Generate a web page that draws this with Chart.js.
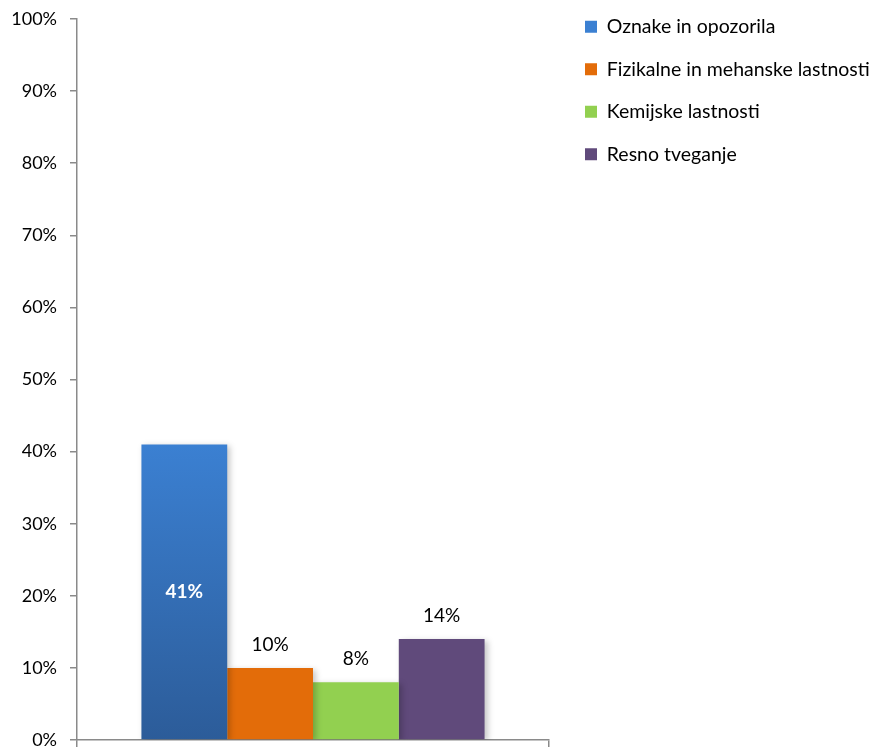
<!DOCTYPE html>
<html>
<head>
<meta charset="utf-8">
<title>Deleži</title>
<script src="https://cdn.jsdelivr.net/npm/chart.js@4"></script>
<style>
    html, body { margin: 0; padding: 0; background: #fff; }
    #wrap { width: 874px; height: 749px; }
</style>
</head>
<body>
<div id="wrap"><canvas id="graf"></canvas></div>
<script>
// =========================
// PODATKI
// =========================
const kategorije = [''];
const serije = ['Oznake in opozorila', 'Fizikalne in mehanske lastnosti', 'Kemijske lastnosti', 'Resno tveganje'];
const vrednosti = [41, 10, 8, 14];
const yOznake = [0, 10, 20, 30, 40, 50, 60, 70, 80, 90, 100];

const barve = ['#3a7dcd', '#e36c09', '#92d050', '#604a7b'];
const crta = '#8a8a8a';
const pisava = 'Lato, "Open Sans", sans-serif';

Chart.defaults.font.family = pisava;
Chart.defaults.color = '#000';

// modri stolpec ima preliv od svetlejše do temnejše
function barvaStolpca(ctx, i) {
    if (i !== 0) return barve[i];
    const area = ctx.chart.chartArea;
    if (!area) return barve[0];
    const y = ctx.chart.scales.y;
    const g = ctx.chart.ctx.createLinearGradient(0, y.getPixelForValue(vrednosti[0]), 0, area.bottom);
    g.addColorStop(0, '#3b80d2');
    g.addColorStop(1, '#2c5c99');
    return g;
}

// =========================
// PLUGINI
// =========================
const legendaRazmik = {
    id: 'legendaRazmik',
    beforeLayout(chart) {
        const leg = chart.legend;
        if (leg && !leg._prilagojena) {
            const fit = leg.fit;
            leg.fit = function () {
                fit.call(this);
                this.width = 325;
            };
            leg._prilagojena = true;
        }
    },
    afterLayout(chart) {
        const leg = chart.legend;
        const pad = leg.options.labels.padding;
        leg.left = 585 - pad;
        leg.top = 17 - pad;
    }
};

const senca = {
    id: 'senca',
    beforeDatasetDraw(chart) {
        const c = chart.ctx;
        c.save();
        c.shadowColor = 'rgba(0,0,0,0.22)';
        c.shadowBlur = 6;
        c.shadowOffsetX = 3;
        c.shadowOffsetY = 2;
    },
    afterDatasetDraw(chart) {
        chart.ctx.restore();
    }
};

const oznakeVrednosti = {
    id: 'oznakeVrednosti',
    afterDatasetsDraw(chart) {
        const c = chart.ctx;
        c.save();
        c.textAlign = 'center';
        c.textBaseline = 'middle';
        chart.data.datasets.forEach((ds, i) => {
            const el = chart.getDatasetMeta(i).data[0];
            const txt = ds.data[0] + '%';
            if (i === 0) {
                c.font = 'bold 19px ' + pisava;
                c.fillStyle = '#fff';
                c.fillText(txt, el.x, (el.y + el.base) / 2);
            } else {
                c.font = '19px ' + pisava;
                c.fillStyle = '#000';
                c.fillText(txt, el.x, el.y - 23);
            }
        });
        c.restore();
    }
};

// =========================
// GRAF
// =========================
new Chart(document.getElementById('graf'), {
    type: 'bar',
    data: {
        labels: kategorije,
        datasets: serije.map((ime, i) => ({
            label: ime,
            data: [vrednosti[i]],
            backgroundColor: (ctx) => barvaStolpca(ctx, i),
            borderWidth: 0,
            categoryPercentage: 0.727,
            barPercentage: 1
        }))
    },
    options: {
        responsive: true,
        maintainAspectRatio: false,
        animation: false,
        layout: { padding: { top: 19, bottom: 2, left: 0, right: 0 } },
        plugins: {
            tooltip: { enabled: false },
            legend: {
                position: 'right',
                align: 'start',
                labels: {
                    boxWidth: 12,
                    boxHeight: 12,
                    padding: 23,
                    color: '#000',
                    font: { size: 19.5, family: pisava }
                }
            }
        },
        scales: {
            x: {
                ticks: { display: false },
                afterFit(scale) { scale.height = 7; },
                grid: { drawOnChartArea: false, drawTicks: true, tickLength: 7, color: crta, lineWidth: 1.5 },
                border: { display: true, color: crta, width: 1.5 }
            },
            y: {
                min: yOznake[0],
                max: yOznake[yOznake.length - 1],
                afterBuildTicks(scale) {
                    scale.ticks = yOznake.map(v => ({ value: v }));
                },
                afterFit(scale) {
                    scale.width = 77;
                    scale.paddingTop = 0;
                    scale.paddingBottom = 0;
                },
                ticks: {
                    padding: 13,
                    color: '#000',
                    font: { size: 18, family: pisava },
                    callback: (v) => v + '%'
                },
                grid: { drawOnChartArea: false, drawTicks: true, tickLength: 7, color: crta, lineWidth: 1.5 },
                border: { display: true, color: crta, width: 1.5 }
            }
        }
    },
    plugins: [legendaRazmik, senca, oznakeVrednosti]
});
</script>
</body>
</html>
